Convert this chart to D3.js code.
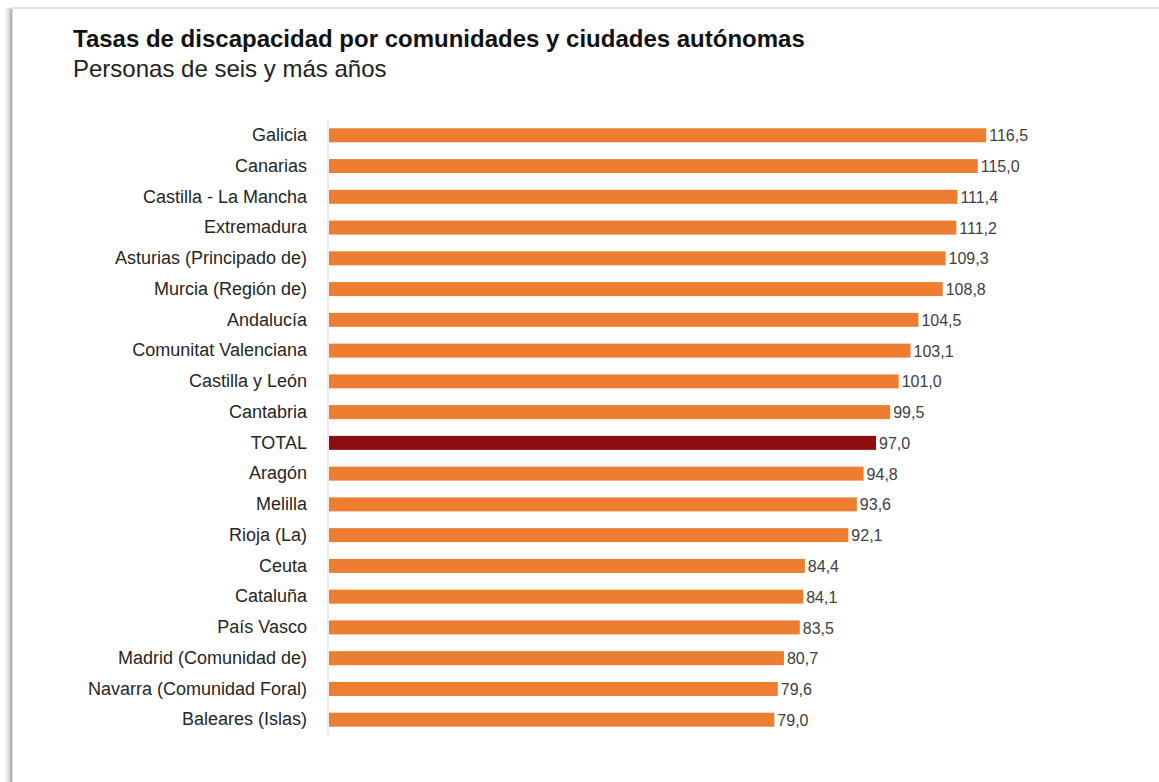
<!DOCTYPE html>
<html lang="es">
<head>
<meta charset="utf-8">
<title>Tasas de discapacidad por comunidades y ciudades autónomas</title>
<script src="https://cdn.jsdelivr.net/npm/d3@7"></script>
<style>
  html, body { margin: 0; padding: 0; background: #ffffff; }
  svg { display: block; }
  text { font-family: "Liberation Sans", Arial, sans-serif; }
</style>
</head>
<body>
<svg id="chart" width="1159" height="782"></svg>
<script>
// Disability rates per 1,000 people aged six and over, by region
const regions = [
  "Galicia", "Canarias", "Castilla - La Mancha", "Extremadura",
  "Asturias (Principado de)", "Murcia (Región de)", "Andalucía",
  "Comunitat Valenciana", "Castilla y León", "Cantabria", "TOTAL",
  "Aragón", "Melilla", "Rioja (La)", "Ceuta", "Cataluña", "País Vasco",
  "Madrid (Comunidad de)", "Navarra (Comunidad Foral)", "Baleares (Islas)"
];
const rates = [
  116.5, 115.0, 111.4, 111.2, 109.3, 108.8, 104.5, 103.1, 101.0, 99.5, 97.0,
  94.8, 93.6, 92.1, 84.4, 84.1, 83.5, 80.7, 79.6, 79.0
];
const totalLabel = "TOTAL";

const title = "Tasas de discapacidad por comunidades y ciudades autónomas";
const subtitle = "Personas de seis y más años";

const rows = regions.map((r, i) => ({ region: r, value: rates[i] }));

const svg = d3.select("#chart");
const W = 1159, H = 782;

// Card frame: shaded left edge and a thin top rule
const defs = svg.append("defs");
const grad = defs.append("linearGradient").attr("id", "edgeShade")
  .attr("x1", "0").attr("x2", "1").attr("y1", "0").attr("y2", "0");
grad.append("stop").attr("offset", "0").attr("stop-color", "#ffffff");
grad.append("stop").attr("offset", "0.6").attr("stop-color", "#e4e4e4");
grad.append("stop").attr("offset", "1").attr("stop-color", "#cfcfcf");
svg.append("rect").attr("x", 4).attr("y", 8).attr("width", 6).attr("height", H - 8)
  .attr("fill", "url(#edgeShade)");
svg.append("rect").attr("x", 10).attr("y", 8).attr("width", 2.5).attr("height", H - 8)
  .attr("fill", "#b5b5b5");
svg.append("rect").attr("x", 10).attr("y", 7).attr("width", W - 10).attr("height", 2)
  .attr("fill", "#e6e6e6");

// Headings
svg.append("text").attr("x", 73).attr("y", 47)
  .attr("font-size", 24).attr("font-weight", "bold").attr("fill", "#111")
  .text(title);
svg.append("text").attr("x", 73).attr("y", 77)
  .attr("font-size", 24).attr("fill", "#222")
  .text(subtitle);

// Scales
const x = d3.scaleLinear().domain([0, 120]).range([328, 1006]);
const y = d3.scaleBand().domain(regions).range([120, 735]).paddingInner(0.545).paddingOuter(0.27);

// Category axis (labels only, plus the baseline rule)
const yAxis = d3.axisLeft(y).tickSize(0).tickPadding(21);
const gy = svg.append("g").attr("transform", `translate(${x(0)},0)`).call(yAxis);
gy.select(".domain").remove();
gy.selectAll("text")
  .attr("font-family", "\"Liberation Sans\", Arial, sans-serif")
  .attr("font-size", 18).attr("fill", "#262626");

svg.append("line")
  .attr("x1", x(0)).attr("x2", x(0))
  .attr("y1", 120).attr("y2", 735)
  .attr("stroke", "#d9d9d9").attr("stroke-width", 1);

// Bars
svg.append("g").selectAll("rect").data(rows).join("rect")
  .attr("x", x(0) + 1)
  .attr("y", d => y(d.region))
  .attr("width", d => x(d.value) - x(0) - 1)
  .attr("height", y.bandwidth())
  .attr("fill", d => d.region === totalLabel ? "#8c0e0e" : "#ed7d31");

// Value labels, Spanish decimal comma
const fmt = v => d3.format(".1f")(v).replace(".", ",");
svg.append("g").selectAll("text").data(rows).join("text")
  .attr("x", d => x(d.value) + 3)
  .attr("y", d => y(d.region) + y.bandwidth() / 2)
  .attr("dy", "0.38em")
  .attr("font-size", 16).attr("fill", "#404040")
  .text(d => fmt(d.value));
</script>
</body>
</html>
